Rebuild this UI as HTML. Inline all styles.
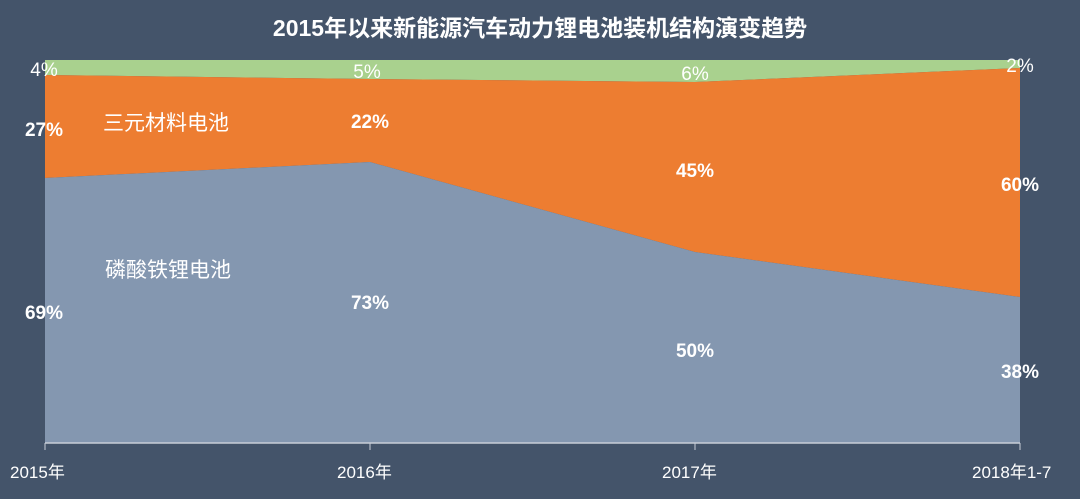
<!DOCTYPE html>
<html><head><meta charset="utf-8"><style>
body{margin:0;width:1080px;height:494px;background:#44546a;overflow:hidden;font-family:"Liberation Sans","Noto Sans CJK SC",sans-serif}
svg text{font-family:"Liberation Sans","Noto Sans CJK SC",sans-serif;fill:#fff}
</style></head><body>
<svg width="1080" height="494" viewBox="0 0 1080 494">
<rect width="1080" height="494" fill="#44546a"/>
<text x="540" y="36" font-size="23" font-weight="bold" text-anchor="middle">2015年以来新能源汽车动力锂电池装机结构演变趋势</text>
<polygon points="45,60 1020,60 1020,68 695,82 370,79 45,75" fill="#a9d18e"/>
<polygon points="45,75 370,79 695,82 1020,68 1020,297 695,252 370,162 45,178" fill="#ed7d31"/>
<polygon points="45,178 370,162 695,252 1020,297 1020,443 45,443" fill="#8497b0"/>
<line x1="45" y1="443" x2="1020" y2="443" stroke="#c8ced8" stroke-width="1.5"/>
<g stroke="#c8ced8" stroke-width="1"><line x1="45" y1="443" x2="45" y2="450"/><line x1="370" y1="443" x2="370" y2="450"/><line x1="695" y1="443" x2="695" y2="450"/><line x1="1020" y1="443" x2="1020" y2="450"/></g>
<g font-size="17"><text x="10" y="478">2015年</text><text x="337" y="478">2016年</text><text x="662" y="478">2017年</text><text x="972" y="478">2018年1-7</text></g>
<g font-size="19" font-weight="bold" text-anchor="middle">
<text x="44" y="76" font-weight="normal">4%</text><text x="44" y="136">27%</text><text x="44" y="319">69%</text>
<text x="367" y="78" font-weight="normal">5%</text><text x="370" y="128">22%</text><text x="370" y="309">73%</text>
<text x="695" y="80" font-weight="normal">6%</text><text x="695" y="177">45%</text><text x="695" y="357">50%</text>
<text x="1020" y="72" font-weight="normal">2%</text><text x="1020" y="191">60%</text><text x="1020" y="378">38%</text>
</g>
<text x="103" y="130" font-size="21">三元材料电池</text>
<text x="105" y="277" font-size="21">磷酸铁锂电池</text>
</svg>
</body></html>
